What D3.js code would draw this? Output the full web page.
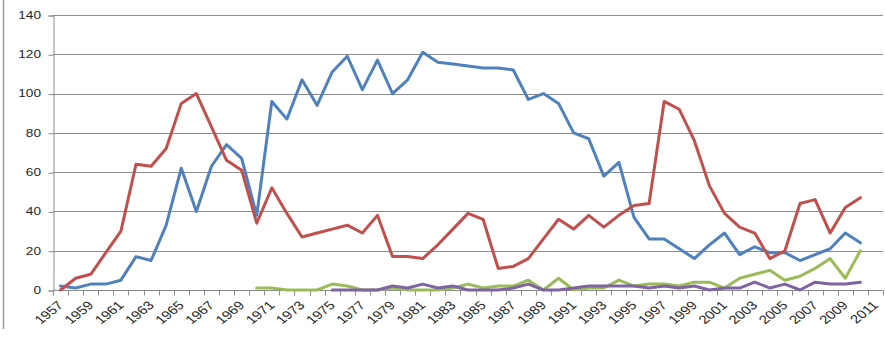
<!DOCTYPE html>
<html><head><meta charset="utf-8">
<script src="https://cdn.jsdelivr.net/npm/d3@7"></script>
<style>
html,body{margin:0;padding:0;background:#fff;}
svg{display:block;font-family:"Liberation Sans",Arial,sans-serif;}
</style></head>
<body>
<svg id="chart" width="885" height="337"></svg>
<script>
const years = d3.range(1957, 2012).map(String);
const tickLabels = years.filter((d, i) => i % 2 === 0);
const yTicks = [0, 20, 40, 60, 80, 100, 120, 140];

// Series values (start year + values)
const blueStart = 1957;
const blueValues = [2,1,3,3,5,17,15,33,62,40, 63,74,67,38,96,87,107,94,111,119,
  102,117,100,107,121,116,115,114,113,113, 112,97,100,95,80,77,58,65,37,26,
  26,21,16,23,29,18,22,19,19,15, 18,21,29,24];
const redStart = 1957;
const redValues = [0,6,8,19,30,64,63,72,95,100, 83,66,61,34,52,39,27,29,31,33,
  29,38,17,17,16,23,31,39,36,11, 12,16,26,36,31,38,32,38,43,44,
  96,92,76,53,39,32,29,16,20,44, 46,29,42,47];
const greenStart = 1970;
const greenValues = [1,1,0,0,0,3,2,0,0,1, 0,0,0,1,3,1,2,2,5,0,
  6,0,1,1,5,2,3,3,2,4, 4,1,6,8,10,5,7,11,16,6, 20];
const purpleStart = 1975;
const purpleValues = [0,0,0,0,2,1,3,1,2,0, 0,0,1,3,0,0,1,2,2,2,
  2,1,2,1,2,0,1,1,4,1, 3,0,4,3,3,4];

const series = [
  {start: blueStart, values: blueValues, color: "#4F81BD"},
  {start: redStart, values: redValues, color: "#C0504D"},
  {start: greenStart, values: greenValues, color: "#9BBB59"},
  {start: purpleStart, values: purpleValues, color: "#8064A2"}
];

const svg = d3.select("#chart");
const mLeft = 53, mRight = 883, mTop = 15, mBottom = 290;
const x = d3.scaleBand().domain(years).range([mLeft, mRight]).padding(0);
const y = d3.scaleLinear().domain([0, 140]).range([mBottom, mTop]);
const gridColor = "#8c8c8c";
const textColor = "#262626";

// left border
svg.append("line").attr("x1", 3.5).attr("x2", 3.5).attr("y1", 0).attr("y2", 329)
  .attr("stroke", "#9a9a9a").attr("stroke-width", 1.5);

// gridlines
svg.append("g").selectAll("line").data(yTicks.filter(d => d > 0)).join("line")
  .attr("x1", mLeft).attr("x2", mRight)
  .attr("y1", d => Math.round(y(d)) + 0.5).attr("y2", d => Math.round(y(d)) + 0.5)
  .attr("stroke", gridColor).attr("stroke-width", 1);

// y axis
const yAxis = d3.axisLeft(y).tickValues(yTicks).tickSize(5).tickFormat("");
const gy = svg.append("g").attr("transform", `translate(${mLeft + 0.5},0.5)`).call(yAxis);
gy.select(".domain").attr("stroke", gridColor);
gy.selectAll(".tick line").attr("stroke", gridColor);
svg.append("g").selectAll("text").data(yTicks).join("text")
  .attr("transform", d => `translate(41,${y(d)}) scale(1.3,1)`)
  .attr("text-anchor", "end").attr("dy", "0.36em")
  .attr("font-size", 10.5).attr("fill", textColor)
  .text(d => d);

// x axis
const xAxis = d3.axisBottom(x).tickSize(0).tickFormat("");
const gx = svg.append("g").attr("transform", `translate(0.5,${Math.round(mBottom) + 0.5})`).call(xAxis);
gx.select(".domain").attr("stroke", gridColor).attr("d", `M${mLeft},0H${mRight}`);
gx.selectAll(".tick").remove();
const bounds = years.map(d => x(d)).concat([mRight]);
gx.selectAll("line.t").data(bounds).join("line").attr("class", "t")
  .attr("x1", d => Math.round(d)).attr("x2", d => Math.round(d))
  .attr("y1", 0).attr("y2", 5).attr("stroke", gridColor);

// x labels
svg.append("g").selectAll("text").data(tickLabels).join("text")
  .attr("transform", d => `translate(${x(d) + x.bandwidth() / 2},${mBottom + 13}) scale(1.25,1) rotate(-45)`)
  .attr("text-anchor", "end").attr("dy", "0.35em")
  .attr("font-size", 12).attr("fill", textColor)
  .text(d => d);

// white mask below the clipped frame edge
svg.append("rect").attr("x", 0).attr("y", 331).attr("width", 885).attr("height", 6).attr("fill", "#fff");

// lines
const line = d3.line()
  .x(d => x(String(d.year)) + x.bandwidth() / 2)
  .y(d => y(d.value));
series.forEach(s => {
  const pts = s.values.map((v, i) => ({year: s.start + i, value: v}));
  svg.append("path").datum(pts).attr("d", line)
    .attr("fill", "none").attr("stroke", s.color).attr("stroke-width", 3)
    .attr("stroke-linejoin", "round").attr("stroke-linecap", "round");
});
</script>
</body></html>
